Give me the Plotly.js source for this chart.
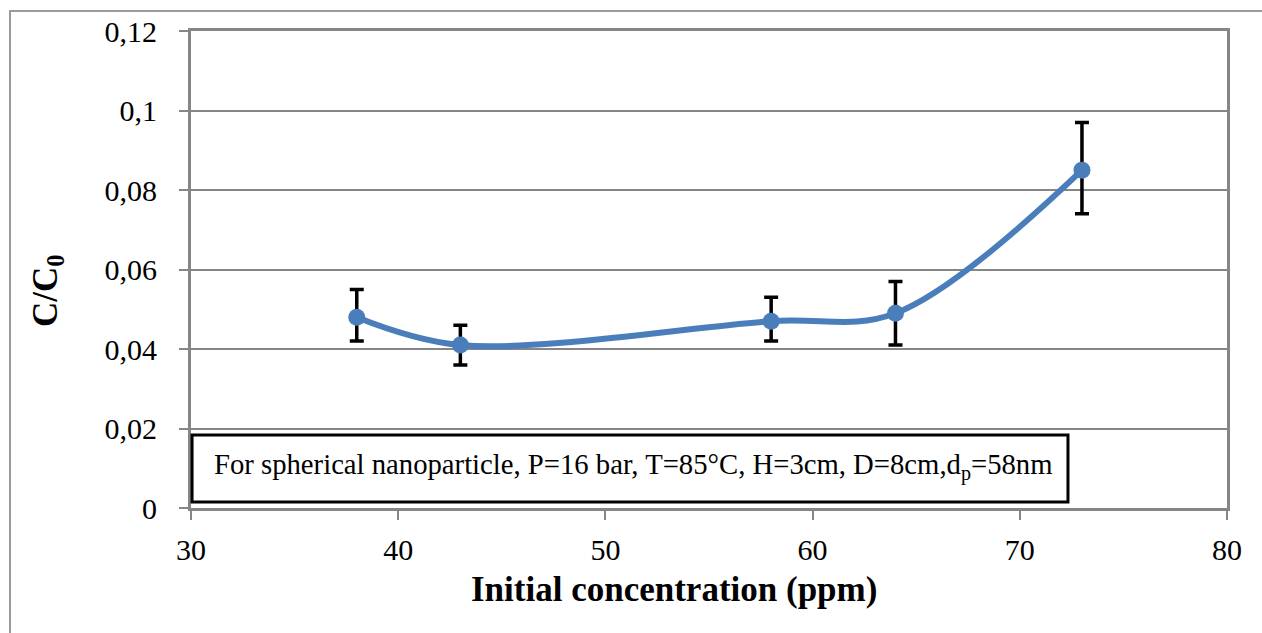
<!DOCTYPE html>
<html>
<head>
<meta charset="utf-8">
<script src="https://cdn.plot.ly/plotly-3.0.1.min.js"></script>
<style>
html,body{margin:0;padding:0;background:#fff;}
#chart{width:1262px;height:633px;}
</style>
</head>
<body>
<div id="chart"></div>
<script>
// Data
const concentration = [38, 43, 58, 64, 73];
const ratio = [0.048, 0.041, 0.047, 0.049, 0.085];
const errPlus = [0.007, 0.005, 0.006, 0.008, 0.012];
const errMinus = [0.006, 0.005, 0.005, 0.008, 0.011];

const xTicks = [30, 40, 50, 60, 70, 80];
const yTicks = [0, 0.02, 0.04, 0.06, 0.08, 0.1, 0.12];
const yTickLabels = ['0', '0,02', '0,04', '0,06', '0,08', '0,1', '0,12'];

const xTitle = 'Initial concentration (ppm)';
const yTitle = 'C/C<sub>0</sub>';
const note = 'For spherical nanoparticle, P=16 bar, T=85°C, H=3cm, D=8cm,d<sub>p</sub>=58nm';

const serif = 'Liberation Serif, Times New Roman, serif';
const gray = '#868686';

const trace = {
  x: concentration,
  y: ratio,
  type: 'scatter',
  mode: 'lines+markers',
  line: {shape: 'spline', smoothing: 1, color: '#4a7ebb', width: 6},
  marker: {symbol: 'circle', size: 17, color: '#4a7ebb'},
  error_y: {
    type: 'data', symmetric: false,
    array: errPlus, arrayminus: errMinus,
    color: '#000000', thickness: 3.5, width: 7
  },
  hoverinfo: 'x+y'
};

const layout = {
  width: 1262, height: 633,
  margin: {l: 191, r: 35, t: 31, b: 125},
  paper_bgcolor: '#ffffff',
  plot_bgcolor: '#ffffff',
  showlegend: false,
  font: {family: serif, color: '#000000', size: 30},
  xaxis: {
    range: [30, 80],
    tickvals: xTicks,
    ticktext: xTicks.map(String),
    showgrid: false,
    zeroline: false,
    showline: true, mirror: true,
    linecolor: gray, linewidth: 3,
    ticks: 'outside', ticklen: 9, tickwidth: 2, tickcolor: gray,
    tickfont: {family: serif, size: 30, color: '#000'},
    ticklabelstandoff: 4,
    fixedrange: true
  },
  yaxis: {
    range: [0, 0.12],
    tickvals: yTicks,
    ticktext: yTickLabels,
    showgrid: true, gridcolor: gray, gridwidth: 2,
    zeroline: false,
    showline: true, mirror: true,
    linecolor: gray, linewidth: 3,
    ticks: 'outside', ticklen: 9, tickwidth: 2, tickcolor: gray,
    tickfont: {family: serif, size: 30, color: '#000'},
    ticklabelstandoff: 16,
    fixedrange: true
  },
  shapes: [
    {type: 'path', xref: 'paper', yref: 'paper',
     path: 'M -0.1747,-0.27 L -0.1747,1.042 L 1.05,1.042',
     line: {color: '#9a9a9a', width: 2}},
    {type: 'rect', xref: 'paper', yref: 'paper',
     x0: 0.001, x1: 0.8465, y0: 0.0126, y1: 0.153,
     fillcolor: '#ffffff', line: {color: '#000000', width: 3}, layer: 'above'}
  ],
  annotations: [
    {xref: 'paper', yref: 'paper', x: 0.4276, y: 0.086,
     xanchor: 'center', yanchor: 'middle', showarrow: false,
     text: note, font: {family: serif, size: 28.7, color: '#000'}},
    {xref: 'paper', yref: 'paper', x: 0.4662, y: -0.17,
     xanchor: 'center', yanchor: 'middle', showarrow: false,
     text: xTitle, font: {family: serif, size: 35, color: '#000', weight: 'bold'}},
    {xref: 'paper', yref: 'paper', x: -0.138, y: 0.455,
     xanchor: 'center', yanchor: 'middle', showarrow: false, textangle: -90,
     text: yTitle, font: {family: serif, size: 35, color: '#000', weight: 'bold'}}
  ]
};

Plotly.newPlot('chart', [trace], layout, {staticPlot: true, displayModeBar: false});
</script>
</body>
</html>
